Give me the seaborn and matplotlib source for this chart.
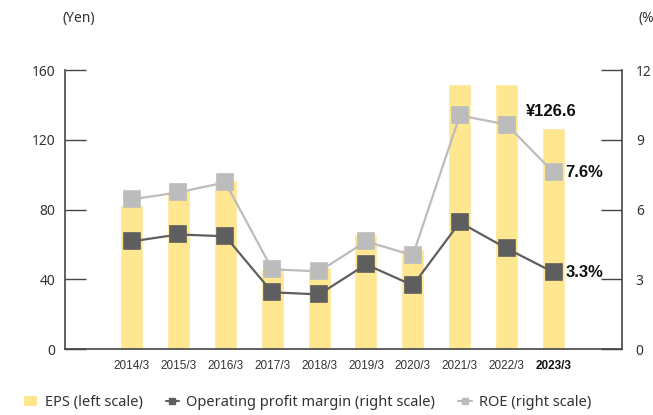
import numpy as np
import pandas as pd
import matplotlib.pyplot as plt
import seaborn as sns
from matplotlib.lines import Line2D
from matplotlib.patches import Patch

years = ["2014/3", "2015/3", "2016/3", "2017/3", "2018/3",
         "2019/3", "2020/3", "2021/3", "2022/3", "2023/3"]
eps = [82.6, 91.2, 96.9, 45.9, 47.2, 65.9, 57.3, 152.3, 151.8, 126.6]
opm = [4.63, 4.93, 4.85, 2.44, 2.35, 3.64, 2.74, 5.45, 4.33, 3.3]
roe = [6.44, 6.74, 7.17, 3.43, 3.34, 4.63, 4.03, 10.05, 9.66, 7.6]

df = pd.DataFrame({"Year": years, "EPS": eps, "OPM": opm, "ROE": roe})

yellow = "#FFE792"
dark = "#5E5E5E"
light = "#BBBCBB"
axis_col = "#444444"
text_col = "#333333"

sns.set_style("white")
plt.rcParams["font.family"] = ["Noto Sans", "DejaVu Sans"]

fig = plt.figure(figsize=(6.53, 4.15), dpi=100)
ax = fig.add_axes([0.0995, 0.159, 0.853, 0.672])

sns.barplot(data=df, x="Year", y="EPS", color=yellow, width=0.49,
            saturation=1, ax=ax, zorder=1)

ax2 = ax.twinx()
sns.pointplot(data=df, x="Year", y="ROE", color=light, markers="s",
              markersize=12, linewidth=1.6, ax=ax2)
sns.pointplot(data=df, x="Year", y="OPM", color=dark, markers="s",
              markersize=12, linewidth=1.6, ax=ax2)

for a in (ax, ax2):
    a.set_xlim(-1.42, 10.46)
    a.set_xlabel("")
    a.set_ylabel("")

ax.set_ylim(0, 160)
ax.set_yticks([0, 40, 80, 120, 160])
ax2.set_ylim(0, 12)
ax2.set_yticks([0, 3, 6, 9, 12])

for a in (ax, ax2):
    a.spines["top"].set_visible(False)
    for s in ("left", "right", "bottom"):
        a.spines[s].set_color(axis_col)
        a.spines[s].set_linewidth(1.2)
ax.spines["right"].set_visible(False)
ax2.spines["left"].set_visible(False)
ax2.spines["bottom"].set_visible(False)

ax.tick_params(axis="y", direction="in", length=15, width=1, color=axis_col,
               labelsize=10, labelcolor=text_col, pad=7)
ax2.tick_params(axis="y", direction="in", length=15, width=1, color=axis_col,
                labelsize=10, labelcolor=text_col, pad=10)
ax.tick_params(axis="x", length=0, pad=8)
ax.set_xticks(range(len(years)))
ax.set_xticklabels(years, fontsize=8.5, color=text_col, family=["Liberation Sans"])
last = ax.get_xticklabels()[-1]
last.set_fontweight("bold")
last.set_color("#111111")

fig.text(0.095, 0.955, "(Yen)", fontsize=10, color=text_col, ha="left", va="center")
fig.text(0.978, 0.955, "(%)", fontsize=10, color=text_col, ha="left", va="center")

n = len(years) - 1
bold = dict(fontsize=12, fontweight="bold", color="#111111", ha="left",
            va="center", family=["Liberation Sans"])
ax.annotate(f"¥{eps[-1]}", xy=(n - 0.58, 136), **bold)
ax2.annotate(f"{roe[-1]}%", xy=(n + 0.26, roe[-1]), **bold)
ax2.annotate(f"{opm[-1]}%", xy=(n + 0.26, opm[-1]), **bold)

handles = [
    Patch(facecolor=yellow, edgecolor="none", label="EPS (left scale)"),
    Line2D([0], [0], color=dark, marker="s", markersize=5, linewidth=1.5,
           label="Operating profit margin (right scale)"),
    Line2D([0], [0], color=light, marker="s", markersize=5, linewidth=1.5,
           label="ROE (right scale)"),
]
fig.legend(handles=handles, loc="center left", bbox_to_anchor=(0.017, 0.03),
           ncol=3, frameon=False, fontsize=10.5, handlelength=0.9,
           handletextpad=0.5, columnspacing=1.6, labelcolor=text_col)

fig.savefig("out.png", dpi=100)
